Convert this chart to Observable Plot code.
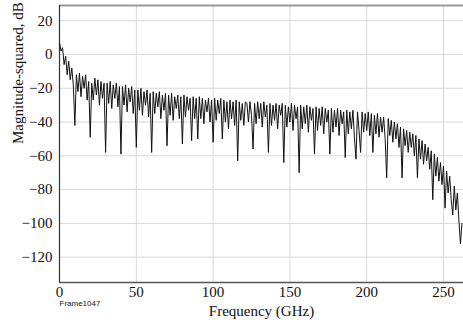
<!DOCTYPE html>
<html>
<head>
<meta charset="utf-8">
<script src="https://cdn.jsdelivr.net/npm/d3@7"></script>
<script src="https://cdn.jsdelivr.net/npm/@observablehq/plot@0.6"></script>
<style>
  html, body { margin: 0; padding: 0; background: #fff; }
  #chart svg { display: block; }
  #chart svg, #chart svg g, #chart svg text { font-family: "Liberation Serif", "DejaVu Serif", serif !important; }
  #chart svg g.frame-name text { font-family: "Liberation Sans", "DejaVu Sans", sans-serif !important; }
</style>
</head>
<body>
<div id="chart"></div>
<script>
// Frequency in GHz (1 GHz steps) and magnitude-squared in dB
const startFreq = 0;
const magnitudeDb = [
  7, 2, 4, -6, -1, -12, -4, -15, -8, -18,
  -42, -12, -22, -11, -25, -13, -20, -12, -27, -16,
  -49, -17, -27, -14, -24, -15, -30, -16, -26, -17,
  -58, -17, -29, -16, -32, -18, -26, -17, -31, -19,
  -59, -19, -30, -18, -34, -20, -28, -19, -35, -21,
  -55, -21, -33, -20, -36, -22, -30, -21, -37, -23,
  -58, -22, -35, -23, -31, -22, -38, -24, -33, -23,
  -54, -24, -36, -23, -39, -25, -32, -24, -38, -25,
  -53, -24, -37, -25, -33, -26, -51, -25, -38, -26,
  -50, -25, -38, -26, -41, -27, -34, -26, -40, -27,
  -52, -26, -39, -27, -35, -26, -50, -27, -40, -28,
  -44, -27, -38, -28, -42, -27, -63, -28, -39, -29,
  -42, -28, -29, -40, -28, -36, -56, -29, -41, -28,
  -38, -29, -43, -28, -37, -30, -58, -29, -42, -30,
  -39, -29, -44, -30, -36, -29, -64, -30, -43, -31,
  -40, -29, -45, -30, -38, -31, -70, -30, -44, -31,
  -41, -30, -46, -31, -39, -32, -59, -31, -45, -32,
  -42, -31, -47, -32, -40, -33, -59, -32, -46, -33,
  -43, -32, -48, -33, -41, -34, -61, -33, -47, -34,
  -44, -33, -49, -62, -34, -45, -58, -34, -46, -35,
  -45, -34, -48, -35, -58, -36, -47, -35, -49, -37,
  -46, -37, -50, -73, -38, -48, -39, -52, -40, -50,
  -41, -55, -43, -73, -44, -54, -45, -58, -46, -55,
  -47, -60, -48, -73, -50, -62, -51, -65, -53, -63,
  -55, -68, -57, -86, -59, -72, -61, -75, -64, -77,
  -66, -91, -69, -82, -72, -86, -95, -78, -92, -82,
  -98, -112, -100
];
const xTicks = [0, 50, 100, 150, 200, 250];
const yTicks = [-120, -100, -80, -60, -40, -20, 0, 20];
const xLabel = "Frequency (GHz)";
const yLabel = "Magnitude-squared, dB";
const frameName = "Frame1047";

const data = magnitudeDb.map((v, i) => ({f: startFreq + i, db: v}));
const serif = "Liberation Serif";

const chart = Plot.plot({
  width: 463,
  height: 320,
  marginLeft: 59,
  marginRight: 0,
  marginTop: 5,
  marginBottom: 38,
  style: {fontFamily: serif, fontSize: "15px", color: "#111", background: "#fff"},
  x: {domain: [0, 263]},
  y: {domain: [-135, 29]},
  marks: [
    Plot.gridX(xTicks, {stroke: "#d8d8d8", strokeOpacity: 1, strokeWidth: 1}),
    Plot.gridY(yTicks, {stroke: "#d8d8d8", strokeOpacity: 1, strokeWidth: 1}),
    Plot.axisX(xTicks, {tickSize: 0, tickPadding: 4, fontSize: 15, fontFamily: serif, label: null}),
    Plot.axisY(yTicks, {tickSize: 0, tickPadding: 7, fontSize: 15, fontFamily: serif, label: null}),
    Plot.text([xLabel], {frameAnchor: "bottom", lineAnchor: "bottom", dy: 33, fontSize: 15, fontFamily: serif}),
    Plot.text([yLabel], {frameAnchor: "left", dx: -41, rotate: -90, fontSize: 15, fontFamily: serif}),
    Plot.text([frameName], {frameAnchor: "bottom-left", textAnchor: "start", dy: 23, dx: 0, fontSize: 8, className: "frame-name"}),
    Plot.ruleY([29], {stroke: "#999", strokeWidth: 2}),
    Plot.ruleY([-135], {stroke: "#555", strokeWidth: 1.5}),
    Plot.ruleX([0], {stroke: "#333", strokeWidth: 1.2}),
    Plot.line(data, {x: "f", y: "db", stroke: "#111", strokeWidth: 1})
  ]
});
document.getElementById("chart").append(chart);
</script>
</body>
</html>
